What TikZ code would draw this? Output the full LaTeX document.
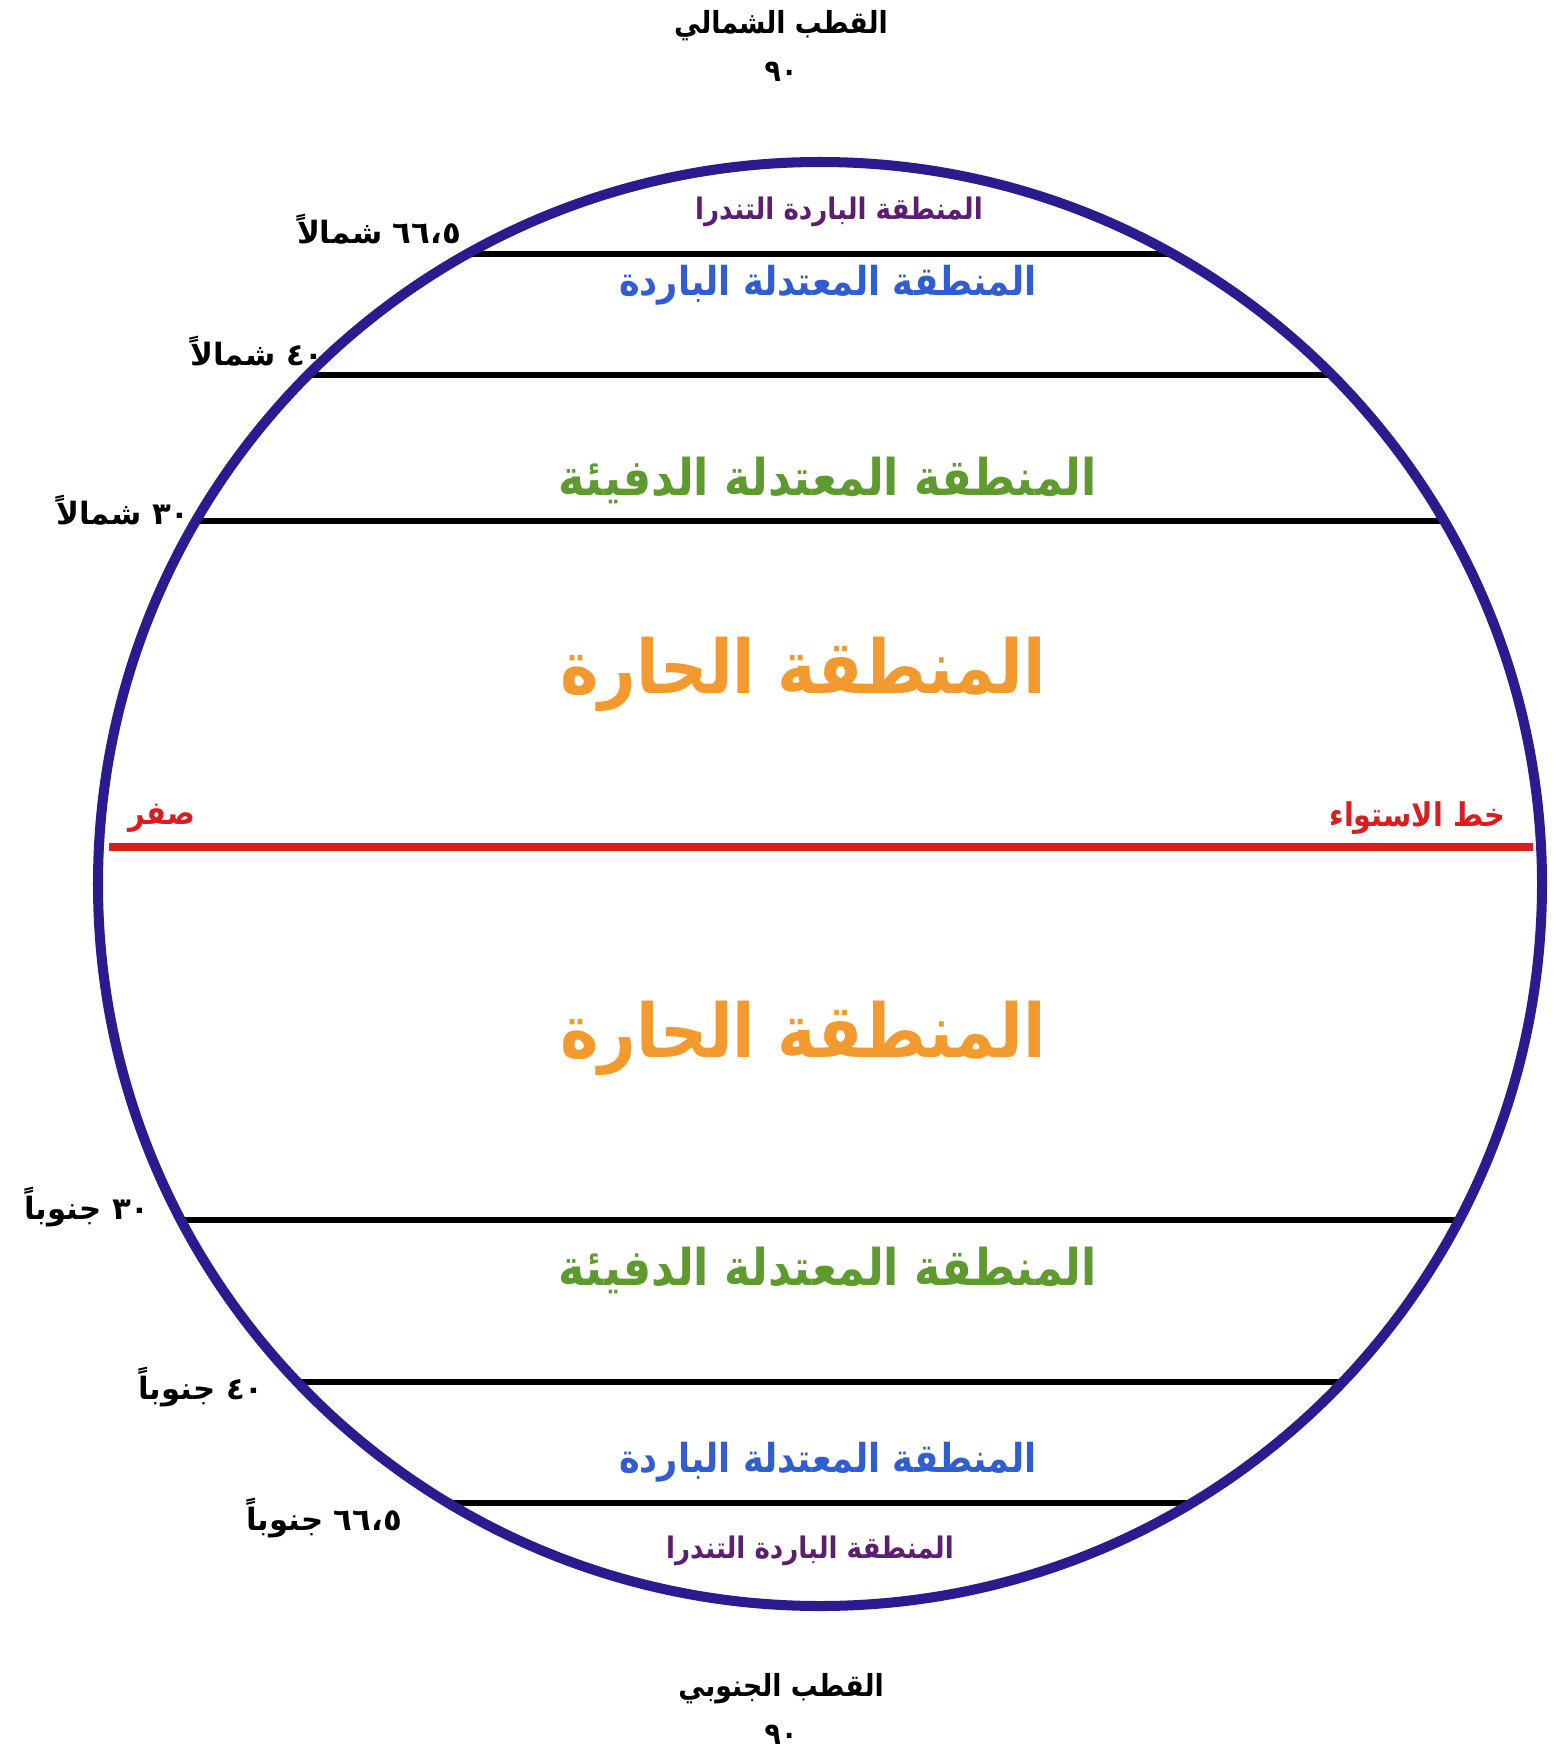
\documentclass[tikz,border=0pt]{standalone}
\usepackage{fontspec}
\TeXXeTstate=1
\newfontfamily\arabicfont[Script=Arabic]{DejaVu Sans}
\newfontfamily\arabicnarrow[Script=Arabic,FakeStretch=0.88]{DejaVu Sans}
\definecolor{globe}{RGB}{42,27,142}
\definecolor{tundra}{RGB}{92,30,112}
\definecolor{coldz}{RGB}{48,94,210}
\definecolor{warmz}{RGB}{94,154,46}
\definecolor{hotz}{RGB}{242,154,46}
\definecolor{eqred}{RGB}{216,30,30}
\tikzset{
  ar/.style={inner sep=0pt, anchor=center},
  polelbl/.style={ar, font=\arabicnarrow\bfseries\fontsize{17.3}{21}\selectfont},
  latlbl/.style={ar, font=\arabicfont\bfseries\fontsize{17.5}{21}\selectfont},
  tundralbl/.style={ar, text=tundra, font=\arabicnarrow\bfseries\fontsize{16.9}{20}\selectfont},
  coldlbl/.style={ar, text=coldz, font=\arabicnarrow\bfseries\fontsize{22.7}{27}\selectfont},
  warmlbl/.style={ar, text=warmz, font=\arabicnarrow\bfseries\fontsize{28.8}{34}\selectfont},
  hotlbl/.style={ar, text=hotz, font=\arabicnarrow\bfseries\fontsize{42.3}{50}\selectfont},
  eqlbl/.style={ar, text=eqred, font=\arabicnarrow\bfseries\fontsize{18.6}{22}\selectfont},
  parallel/.style={line width=3.5pt, black},
  globeline/.style={line width=5.7pt, globe},
  eqline/.style={line width=4pt, eqred}
}
\begin{document}
\begin{tikzpicture}[x=0.02cm,y=-0.02cm]
\useasboundingbox (0,0) rectangle (1560,1750);
% globe centre and radius
\coordinate (C) at (820,884);
% parallels, clipped to the globe
\begin{scope}
  \clip (C) circle [radius=722];
  \draw[parallel] (0,254) -- (1560,254);
  \draw[parallel] (0,375) -- (1560,375);
  \draw[parallel] (0,521) -- (1560,521);
  \draw[parallel] (0,1220) -- (1560,1220);
  \draw[parallel] (0,1382) -- (1560,1382);
  \draw[parallel] (0,1503) -- (1560,1503);
\end{scope}
% equator
\coordinate (eqL) at (109,847);
\coordinate (eqR) at (1533,847);
\draw[eqline] (eqL) -- (eqR);
% globe outline
\draw[globeline] (C) circle [radius=722];
% poles
\node[polelbl] (np) at (781,26) {\beginR القطب الشمالي\endR};
\node[polelbl] (np90) at (781,72) {٩٠};
\node[polelbl] (sp) at (781,1689) {\beginR القطب الجنوبي\endR};
\node[polelbl] (sp90) at (781,1735) {٩٠};
% zones north
\node[tundralbl] (tn) at (839,212) {\beginR المنطقة الباردة التندرا\endR};
\node[coldlbl] (cn) at (828,285) {\beginR المنطقة المعتدلة الباردة\endR};
\node[warmlbl] (wn) at (828,480) {\beginR المنطقة المعتدلة الدفيئة\endR};
\node[hotlbl] (hn) at (803,674) {\beginR المنطقة الحارة\endR};
% zones south
\node[hotlbl] (hs) at (803,1038) {\beginR المنطقة الحارة\endR};
\node[warmlbl] (ws) at (828,1270) {\beginR المنطقة المعتدلة الدفيئة\endR};
\node[coldlbl] (cs) at (828,1462) {\beginR المنطقة المعتدلة الباردة\endR};
\node[tundralbl] (ts) at (810,1551) {\beginR المنطقة الباردة التندرا\endR};
% equator labels
\node[eqlbl] (eqname) at (1417,818) {\beginR خط الاستواء\endR};
\node[eqlbl] (eqzero) at (162,818) {\beginR صفر\endR};
% latitude labels
\node[latlbl] (l66n) at (379,229) {\beginR ٦٦،٥ شمالاً\endR};
\node[latlbl] (l40n) at (257,351) {\beginR ٤٠ شمالاً\endR};
\node[latlbl] (l30n) at (123,510) {\beginR ٣٠ شمالاً\endR};
\node[latlbl] (l30s) at (87,1207) {\beginR ٣٠ جنوباً\endR};
\node[latlbl] (l40s) at (201,1387) {\beginR ٤٠ جنوباً\endR};
\node[latlbl] (l66s) at (324,1518) {\beginR ٦٦،٥ جنوباً\endR};
\end{tikzpicture}
\end{document}
